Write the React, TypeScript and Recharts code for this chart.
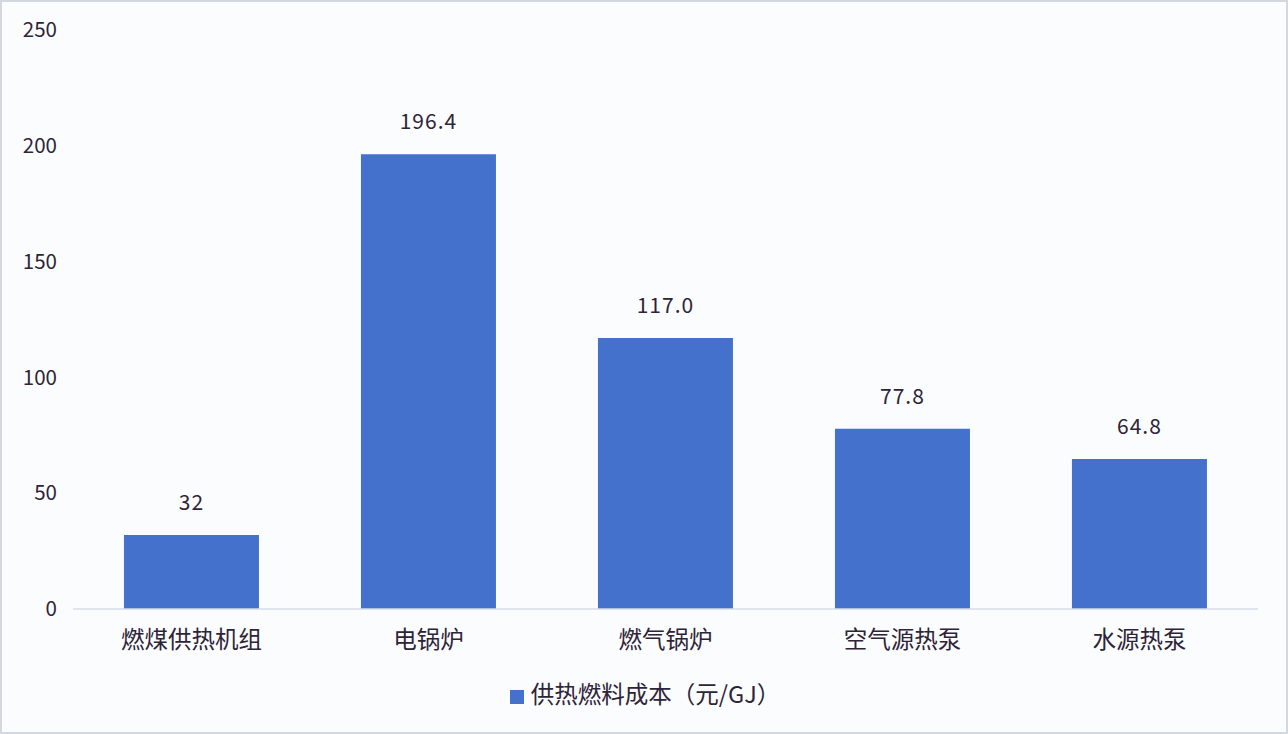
import { BarChart, Bar, XAxis, YAxis, Legend, LabelList } from 'recharts';

const categories = ['燃煤供热机组', '电锅炉', '燃气锅炉', '空气源热泵', '水源热泵'];
const costValues = [32, 196.4, 117.0, 77.8, 64.8];
const costLabels = ['32', '196.4', '117.0', '77.8', '64.8'];
const yTicks = [0, 50, 100, 150, 200, 250];
const seriesName = '供热燃料成本（元/GJ）';

const data = categories.map((name, i) => ({ name, cost: costValues[i], label: costLabels[i] }));

const FONT = '"Noto Sans CJK SC", "Noto Sans", sans-serif';
const TEXT = '#2e2438';

export default function App() {
  return (
    <div
      style={{
        position: 'absolute',
        left: 0,
        top: 0,
        width: 1288,
        height: 734,
        boxSizing: 'border-box',
        border: '2px solid #d3d7de',
        background: '#fbfcfe',
        fontFamily: FONT,
      }}
    >
      <BarChart
        width={1284}
        height={730}
        data={data}
        margin={{ top: 28, right: 28, left: 0, bottom: 24 }}
        barCategoryGap="21.5%"
      >
        <XAxis
          dataKey="name"
          tick={{ fill: TEXT, fontSize: 23.5, fontFamily: FONT }}
          tickLine={false}
          tickSize={0}
          tickMargin={22}
          axisLine={{ stroke: '#d6dcea', strokeWidth: 1.5 }}
          height={69}
          interval={0}
        />
        <YAxis
          domain={[0, 250]}
          ticks={yTicks}
          width={71}
          axisLine={false}
          tickLine={false}
          tickSize={0}
          tickMargin={16}
          tick={{ fill: TEXT, fontSize: 20.5, fontFamily: FONT }}
        />
        <Legend
          verticalAlign="bottom"
          align="center"
          iconType="square"
          iconSize={14}
          wrapperStyle={{ fontSize: 23.5, fontFamily: FONT, lineHeight: '30px', left: 20 }}
          formatter={(v: string) => <span style={{ color: TEXT, marginLeft: 3 }}>{v}</span>}
        />
        <Bar dataKey="cost" name={seriesName} fill="#4371cb" isAnimationActive={false}>
          <LabelList
            dataKey="label"
            position="top"
            offset={25}
            style={{ fill: TEXT, fontSize: 21, fontFamily: FONT, letterSpacing: 1 }}
          />
        </Bar>
      </BarChart>
    </div>
  );
}
